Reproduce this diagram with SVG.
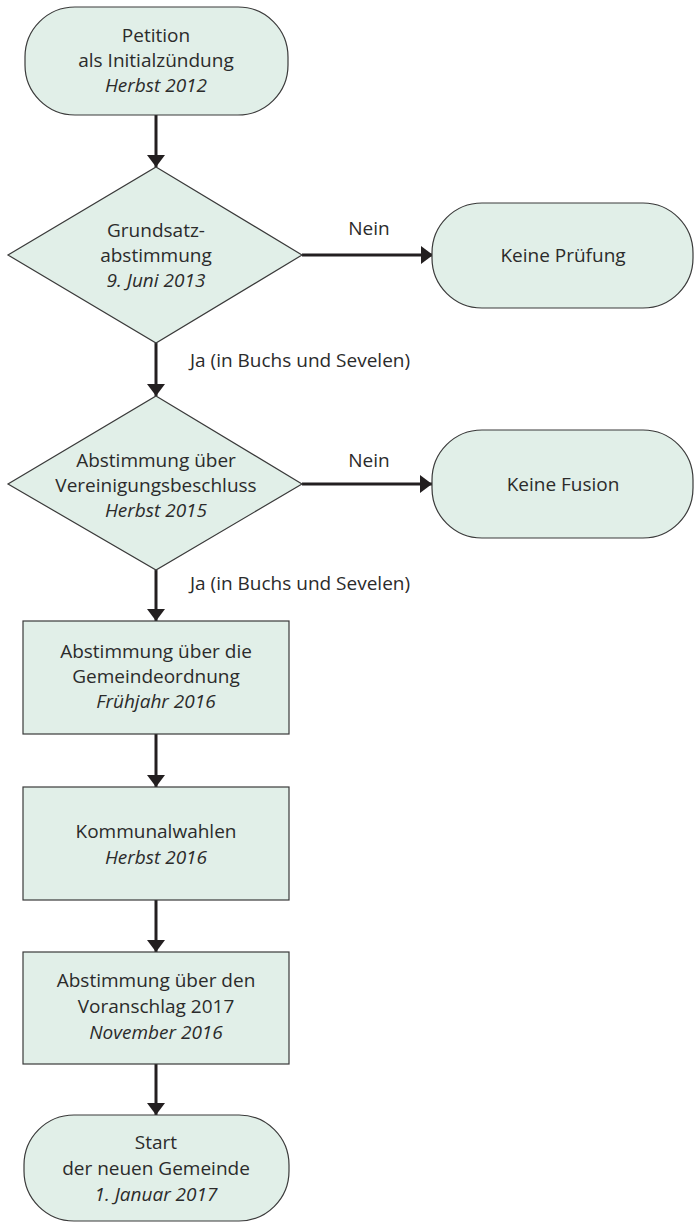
<svg xmlns="http://www.w3.org/2000/svg" width="695" height="1223" viewBox="0 0 695 1223">
<defs>
<style>
.n{fill:#e1efe8;stroke:#3a3a3a;stroke-width:1.2}
.t{font-family:"Open Sans","Liberation Sans",sans-serif;font-size:19px;fill:#2b2b2b;text-anchor:middle}
.l{font-family:"Open Sans","Liberation Sans",sans-serif;font-size:19px;fill:#2b2b2b}
.i{font-style:italic}
.c{stroke:#231f20;stroke-width:3;fill:none}
</style>
<marker id="a" markerUnits="userSpaceOnUse" markerWidth="20" markerHeight="20" refX="12" refY="9" orient="auto">
<path d="M0,0 L12,9 L0,18 Z" fill="#231f20"/>
</marker>
</defs>
<rect width="695" height="1223" fill="#ffffff"/>
<g id="connectors">
<line class="c" x1="156" y1="115" x2="156" y2="167" marker-end="url(#a)"/>
<line class="c" x1="302" y1="255" x2="433" y2="255" marker-end="url(#a)"/>
<line class="c" x1="156" y1="343" x2="156" y2="396" marker-end="url(#a)"/>
<line class="c" x1="302" y1="484" x2="432" y2="484" marker-end="url(#a)"/>
<line class="c" x1="156" y1="570" x2="156" y2="621" marker-end="url(#a)"/>
<line class="c" x1="156" y1="734" x2="156" y2="787" marker-end="url(#a)"/>
<line class="c" x1="156" y1="900" x2="156" y2="952" marker-end="url(#a)"/>
<line class="c" x1="156" y1="1064" x2="156" y2="1115" marker-end="url(#a)"/>
<text class="l" x="369" y="235" text-anchor="middle">Nein</text>
<text class="l" x="190" y="367">Ja (in Buchs und Sevelen)</text>
<text class="l" x="369" y="467" text-anchor="middle">Nein</text>
<text class="l" x="190" y="590">Ja (in Buchs und Sevelen)</text>
</g>
<g id="petition">
<rect class="n" x="25" y="7" width="263" height="108" rx="50" ry="50"/>
<text class="t" x="156" y="42">Petition</text>
<text class="t" x="156" y="67">als Initialzündung</text>
<text class="t i" x="156" y="92">Herbst 2012</text>
</g>
<g id="grundsatz">
<polygon class="n" points="156,167 302,255 156,343 8,255"/>
<text class="t" x="156" y="237">Grundsatz-</text>
<text class="t" x="156" y="262">abstimmung</text>
<text class="t i" x="156" y="287">9. Juni 2013</text>
</g>
<g id="keine-pruefung">
<rect class="n" x="432" y="203" width="261" height="105" rx="50" ry="50"/>
<text class="t" x="563" y="262">Keine Prüfung</text>
</g>
<g id="vereinigung">
<polygon class="n" points="156,396 302,484 156,570 8,484"/>
<text class="t" x="156" y="467">Abstimmung über</text>
<text class="t" x="156" y="492">Vereinigungsbeschluss</text>
<text class="t i" x="156" y="517">Herbst 2015</text>
</g>
<g id="keine-fusion">
<rect class="n" x="432" y="430" width="261" height="108" rx="50" ry="50"/>
<text class="t" x="563" y="491">Keine Fusion</text>
</g>
<g id="gemeindeordnung">
<rect class="n" x="23" y="621" width="266" height="113"/>
<text class="t" x="156" y="658">Abstimmung über die</text>
<text class="t" x="156" y="683">Gemeindeordnung</text>
<text class="t i" x="156" y="708">Frühjahr 2016</text>
</g>
<g id="kommunalwahlen">
<rect class="n" x="23" y="787" width="266" height="113"/>
<text class="t" x="156" y="838">Kommunalwahlen</text>
<text class="t i" x="156" y="864">Herbst 2016</text>
</g>
<g id="voranschlag">
<rect class="n" x="23" y="952" width="266" height="112"/>
<text class="t" x="156" y="987">Abstimmung über den</text>
<text class="t" x="156" y="1013">Voranschlag 2017</text>
<text class="t i" x="156" y="1039">November 2016</text>
</g>
<g id="start">
<rect class="n" x="24" y="1115" width="265" height="106" rx="50" ry="50"/>
<text class="t" x="156" y="1149">Start</text>
<text class="t" x="156" y="1175">der neuen Gemeinde</text>
<text class="t i" x="156" y="1201">1. Januar 2017</text>
</g>
</svg>
